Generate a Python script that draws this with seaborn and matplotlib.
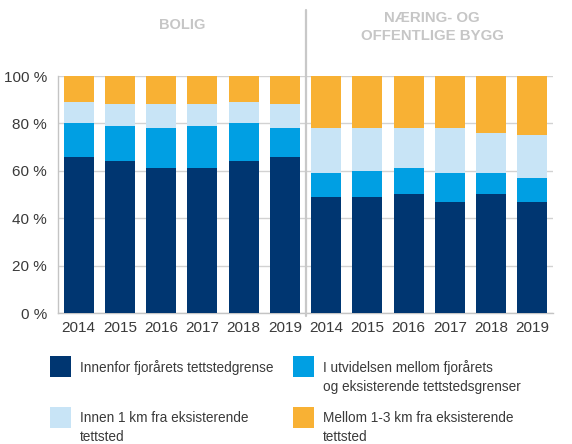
import matplotlib
matplotlib.use("Agg")
import matplotlib.pyplot as plt
from matplotlib.patches import Rectangle
import matplotlib.transforms as mtransforms
import numpy as np
import pandas as pd
import seaborn as sns

# ---- data (share of new building area, %) ----
years = ["2014", "2015", "2016", "2017", "2018", "2019"]
groups = ["BOLIG", "NÆRING- OG\nOFFENTLIGE BYGG"]

bolig_innenfor = [66, 64, 61, 61, 64, 66]
bolig_utvidelse = [14, 15, 17, 18, 16, 12]
bolig_innen1km = [9, 9, 10, 9, 9, 10]
bolig_mellom13 = [11, 12, 12, 12, 11, 12]

naering_innenfor = [49, 49, 50, 47, 50, 47]
naering_utvidelse = [10, 11, 11, 12, 9, 10]
naering_innen1km = [19, 18, 17, 19, 17, 18]
naering_mellom13 = [22, 22, 22, 22, 24, 25]

series_labels = [
    "Innenfor fjorårets tettstedgrense",
    "I utvidelsen mellom fjorårets\nog eksisterende tettstedsgrenser",
    "Innen 1 km fra eksisterende\ntettsted",
    "Mellom 1-3 km fra eksisterende\ntettsted",
]
colors = ["#003671", "#009fe3", "#c8e4f6", "#f8b134"]
y_ticks = [0, 20, 40, 60, 80, 100]

# ---- long table with cumulative tops for stacking ----
slots = [f"B{y}" for y in years] + [f"N{y}" for y in years]
stack = np.array([
    bolig_innenfor + naering_innenfor,
    bolig_utvidelse + naering_utvidelse,
    bolig_innen1km + naering_innen1km,
    bolig_mellom13 + naering_mellom13,
], dtype=float)
cum = stack.cumsum(axis=0)
df = pd.DataFrame({"slot": slots})
for i in range(4):
    df[f"top{i}"] = cum[i]

sns.set_theme(style="white")
plt.rcParams["font.family"] = ["Liberation Sans", "DejaVu Sans"]

fig = plt.figure(figsize=(5.72, 4.44), dpi=100)
ax = fig.add_axes([58 / 572, 1 - 313 / 444, (553 - 58) / 572, (313 - 76) / 444])

# draw from the tallest cumulative layer down so each layer shows its own band
for i in [3, 2, 1, 0]:
    sns.barplot(data=df, x="slot", y=f"top{i}", order=slots, color=colors[i],
                saturation=1, width=0.73, linewidth=0, ax=ax, zorder=3)

ax.set_xlim(-0.5, len(slots) - 0.5)
ax.set_ylim(0, 100)
ax.set_xlabel("")
ax.set_ylabel("")
ax.set_yticks(y_ticks)
ax.set_yticklabels([f"{v} %" for v in y_ticks])
ax.set_xticks(range(len(slots)))
ax.set_xticklabels(years + years)
ax.set_xticks(np.arange(-0.5, len(slots), 1.0), minor=True)

ax.grid(axis="y", color="#d2d2d2", linewidth=1.0, zorder=0)
ax.set_axisbelow(True)
for side in ["top", "right"]:
    ax.spines[side].set_visible(False)
for side in ["left", "bottom"]:
    ax.spines[side].set_color("#c4c4c4")
    ax.spines[side].set_linewidth(1.0)

ax.tick_params(axis="y", length=0, pad=8, labelsize=11, labelcolor="#3a3a3a")
ax.tick_params(axis="x", which="major", length=0, pad=6, labelsize=11,
               labelcolor="#3a3a3a")
ax.tick_params(axis="x", which="minor", length=4, width=1, color="#c4c4c4",
               direction="out")

# separator between the two building groups
trans = mtransforms.blended_transform_factory(ax.transData, fig.transFigure)
ax.plot([5.5, 5.5], [1 - 316 / 444, 1 - 10 / 444], transform=trans,
        color="#c8c8c8", linewidth=1.6, clip_on=False, zorder=4)

# group headings
fig.text(182 / 572, 1 - 25 / 444, groups[0], ha="center", va="center",
         fontsize=10.5, fontweight="bold", color="#c6c6c6")
fig.text(432 / 572, 1 - 27 / 444, groups[1], ha="center", va="center",
         fontsize=10.8, fontweight="bold", color="#c6c6c6", linespacing=1.45)

# legend: 2 x 2 grid of swatches with wrapped labels
legend_pos = [(50, 356), (293, 356), (50, 407), (293, 407)]
for (lx, ly), lab, col in zip(legend_pos, series_labels, colors):
    fig.patches.append(Rectangle((lx / 572, 1 - (ly + 21) / 444), 21 / 572, 21 / 444,
                                 transform=fig.transFigure, facecolor=col,
                                 edgecolor="none"))
    fig.text((lx + 30) / 572, 1 - (ly + 4) / 444, lab, ha="left", va="top",
             fontsize=9.8, color="#3a3a3a", linespacing=1.45)

fig.savefig("out.png", dpi=100)
